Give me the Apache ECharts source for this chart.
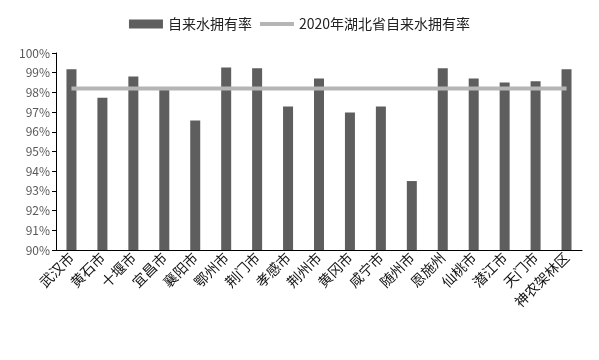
<!DOCTYPE html>
<html><head><meta charset="utf-8">
<script src="https://cdn.jsdelivr.net/npm/echarts@6/dist/echarts.min.js"></script>
<style>html,body{margin:0;padding:0;background:#fff}#c{width:599px;height:360px}</style>
</head><body><div id="c"></div>
<script>
var categories = ["武汉市","黄石市","十堰市","宜昌市","襄阳市","鄂州市","荆门市","孝感市","荆州市","黄冈市","咸宁市","随州市","恩施州","仙桃市","潜江市","天门市","神农架林区"];
var rates = [99.17, 97.73, 98.81, 98.17, 96.57, 99.27, 99.22, 97.29, 98.71, 96.98, 97.29, 93.5, 99.22, 98.71, 98.5, 98.56, 99.17];
var provinceRate = [98.2, 98.2, 98.2, 98.2, 98.2, 98.2, 98.2, 98.2, 98.2, 98.2, 98.2, 98.2, 98.2, 98.2, 98.2, 98.2, 98.2];
var seriesNames = ["自来水拥有率", "2020年湖北省自来水拥有率"];

var font = '"Noto Sans CJK SC", "Noto Sans", sans-serif';
var chart = echarts.init(document.getElementById('c'), null, {renderer: 'canvas'});
chart.setOption({
  animation: false,
  textStyle: {fontFamily: font},
  legend: {
    top: 12, left: 'center',
    itemWidth: 34, itemHeight: 9, itemGap: 6,
    textStyle: {fontSize: 14, color: '#222', fontFamily: font},
    data: [{name: seriesNames[0], icon: 'rect'}, {name: seriesNames[1], itemStyle: {opacity: 0}, lineStyle: {width: 4, color: '#b5b5b5'}}]
  },
  grid: {left: 56, right: 17, top: 53, bottom: 110},
  xAxis: {
    type: 'category', data: categories,
    axisLine: {lineStyle: {color: '#000', width: 1}},
    axisTick: {show: false},
    axisLabel: {rotate: 45, interval: 0, fontSize: 14, color: '#111', fontFamily: font, margin: 5}
  },
  yAxis: {
    type: 'value', min: 90, max: 100, interval: 1,
    axisLine: {show: true, lineStyle: {color: '#000'}},
    axisTick: {show: true, length: 4, lineStyle: {color: '#000'}},
    splitLine: {show: false},
    axisLabel: {formatter: '{value}%', fontSize: 12, color: '#595959', fontFamily: font, margin: 6}
  },
  series: [
    {name: seriesNames[0], type: 'bar', data: rates, barWidth: 10, itemStyle: {color: '#5e5e5e'}},
    {name: seriesNames[1], type: 'line', data: provinceRate, symbol: 'none', lineStyle: {color: '#b5b5b5', width: 4}, itemStyle: {color: '#b5b5b5'}}
  ]
});
</script></body></html>
